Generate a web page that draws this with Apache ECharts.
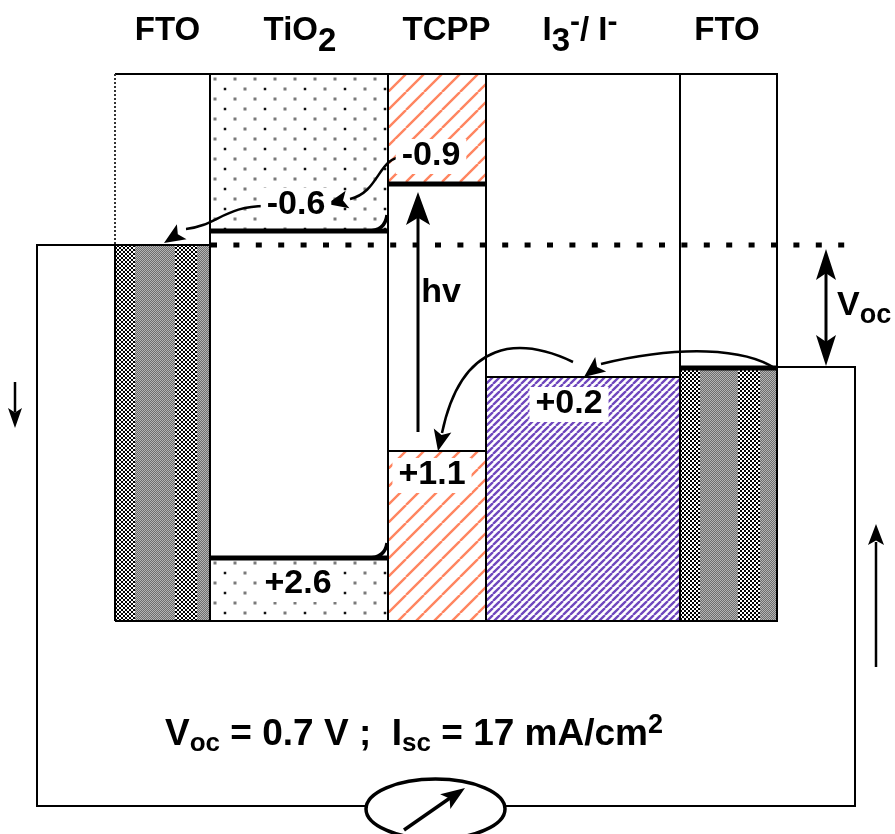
<!DOCTYPE html>
<html><head><meta charset="utf-8">
<script src="https://cdn.jsdelivr.net/npm/echarts@6/dist/echarts.min.js"></script>
<style>html,body{margin:0;padding:0;background:#fff}#c{width:895px;height:834px}</style>
</head><body><div id="c"></div>
<script>
// ================= DATA =================
const materials = ['FTO', 'TiO2', 'TCPP', 'I3-/I-', 'FTO'];
const levelNames = ['TiO2 CB', 'TCPP LUMO', 'TCPP HOMO', 'I3-/I- redox', 'TiO2 VB'];
const levelEnergies = [-0.6, -0.9, 1.1, 0.2, 2.6];   // eV
const vocValues = [0.7];   // V
const iscValues = [17];    // mA/cm2
const photonLabel = ['hv'];

// ================= LAYOUT (schematic diagram units) =================
const W = 895, H = 834;
const FONT = '"Liberation Sans", Arial, Helvetica, sans-serif';
const colEdges = [115, 210, 388, 486, 680, 777];
const boxTop = 74, boxBottom = 621;
const levelY = [231, 184, 451, 377, 558];
const levelCol = [1, 2, 2, 3, 1];
const levelLW = [5, 5, 2, 2, 5];
const fermiY = 245, ftoRightY = 368;
const headerCx = [167.5, 300, 446.5, 580, 727];
const headerBase = 42;
const labelPos = [[296, 216], [431, 167], [432, 486], [569, 415], [298, 595]];

// ================= PATTERNS =================
function mk(w, h, fn) { const c = document.createElement('canvas'); c.width = w; c.height = h; fn(c.getContext('2d'), w, h); return c; }
const patDots = mk(40, 20, (g, w, h) => {
  g.fillStyle = '#fff'; g.fillRect(0, 0, w, h);
  [[5, 5, '#7a7a7a', 3], [25, 5, '#7a7a7a', 3], [15, 15, '#111', 2.5], [35, 15, '#7a7a7a', 3]]
    .forEach(([x, y, c, s]) => { g.fillStyle = c; g.fillRect(x - s / 2, y - s / 2, s, s); });
});
function hatch(size, color, lw) {
  return mk(size, size, (g, w, h) => {
    g.fillStyle = '#fff'; g.fillRect(0, 0, w, h);
    g.strokeStyle = color; g.lineWidth = lw; g.beginPath();
    for (let k = -w; k <= w; k += w) { g.moveTo(k, h); g.lineTo(k + w, 0); }
    g.stroke();
  });
}
const patOrange = hatch(18, '#ff8560', 2.4);
const patPurple = hatch(7, '#6f47bd', 2.3);
function ftoPat(w, bands) {
  return mk(w, 4, (g) => {
    for (let x = 0; x < w; x++) {
      const b = bands.find(b => x >= b[0] && x < b[1]) || bands[bands.length - 1];
      for (let y = 0; y < 4; y++) {
        let c;
        if (b[2] === 'bw') c = ((Math.floor(x / 2) + Math.floor(y / 2)) % 2) ? '#000' : '#fff';
        else c = ((x + y) % 2) ? '#6e6e6e' : '#b4b4b4';
        g.fillStyle = c; g.fillRect(x, y, 1, 1);
      }
    }
  });
}
const patFtoL = ftoPat(95, [[0, 20, 'bw'], [20, 60, 'g'], [60, 82, 'bw'], [82, 95, 'g']]);
const patFtoR = ftoPat(97, [[0, 20, 'bw'], [20, 58, 'g'], [58, 80, 'bw'], [80, 97, 'g']]);
const P = (img) => ({ image: img, repeat: 'repeat' });

// column segments: [y0, y1, fill]
const segments = [
  [[boxTop, fermiY, '#fff'], [fermiY, boxBottom, P(patFtoL)]],
  [[boxTop, levelY[0], P(patDots)], [levelY[0], levelY[4], '#fff'], [levelY[4], boxBottom, P(patDots)]],
  [[boxTop, levelY[1], P(patOrange)], [levelY[1], levelY[2], '#fff'], [levelY[2], boxBottom, P(patOrange)]],
  [[boxTop, levelY[3], '#fff'], [levelY[3], boxBottom, P(patPurple)]],
  [[boxTop, ftoRightY, '#fff'], [ftoRightY, boxBottom, P(patFtoR)]]
];

// ================= TEXT HELPERS =================
const mctx = document.createElement('canvas').getContext('2d');
function tw(t, s) { mctx.font = 'bold ' + s + 'px ' + FONT; return mctx.measureText(t).width; }
function textEl(t, x, base, s, align) {
  return { type: 'text', x: x, y: base - 0.347 * s,
    style: { text: t, fontSize: s, fontWeight: 'bold', fontFamily: FONT, fill: '#000',
      align: align || 'left', verticalAlign: 'middle', textAlign: align || 'left', textVerticalAlign: 'middle' } };
}
// parts: [text, size, dy]
function runs(parts, x0, base, center) {
  const widths = parts.map(p => tw(p[0], p[1]));
  const total = widths.reduce((a, b) => a + b, 0);
  let x = center ? x0 - total / 2 : x0;
  const els = [];
  parts.forEach((p, i) => { els.push(textEl(p[0], x, base + p[2], p[1])); x += widths[i]; });
  return els;
}
function chemParts(name, s) {
  const parts = [];
  for (const ch of name) {
    if (/[0-9]/.test(ch)) parts.push([ch, s, 11]);
    else if (ch === '-') parts.push(['-', 30, -9]);
    else if (ch === '/') parts.push(['/ ', s, 0]);
    else parts.push([ch, s, 0]);
  }
  const out = [];
  parts.forEach(p => {
    const l = out[out.length - 1];
    if (l && l[1] === p[1] && l[2] === p[2]) l[0] += p[0]; else out.push(p.slice());
  });
  return out;
}
const fmt = v => (v > 0 ? '+' : '-') + Math.abs(v).toFixed(1);

// ================= ARROW HELPERS =================
function head(tip, from, len, hw) {
  const dx = tip[0] - from[0], dy = tip[1] - from[1], d = Math.hypot(dx, dy);
  const ux = dx / d, uy = dy / d, nx = -uy, ny = ux;
  const bx = tip[0] - ux * len, by = tip[1] - uy * len;
  const notch = [tip[0] - ux * len * 0.78, tip[1] - uy * len * 0.78];
  return [tip, [bx + nx * hw, by + ny * hw], notch, [bx - nx * hw, by - ny * hw]];
}
// straight arrows: [from, shaftEnd, tip, headLen, halfW, lineWidth]
const straightArrows = [
  [[418, 432], [418, 215], [418, 192], 33, 12, 3],
  [[826, 300], [826, 272], [826, 249], 31, 10, 3],
  [[826, 300], [826, 343], [826, 366], 31, 10, 3],
  [[15, 382], [15, 412], [15, 428], 20, 7, 2.5],
  [[876, 667], [876, 542], [876, 524], 21, 8, 2.5],
  [[404, 830], [450, 798], [465, 788], 24, 9, 3.5]
];
// curved arrows: [P0, P1, P2, P3, tip]
const curvedArrows = [
  [[404, 157], [378, 156], [380, 192], [350, 199], [327, 204]],
  [[268, 206], [226, 205], [216, 226], [186, 229], [164, 243]],
  [[776, 369], [745, 348], [680, 345], [601, 364], [584, 377]],
  [[573, 362], [520, 337], [462, 338], [442, 433], [438, 451]]
];
const hooks = [[[368, 231], [385, 231], [387, 215]], [[368, 558], [385, 558], [387, 543]]];

// ================= CHART =================
const chart = echarts.init(document.getElementById('c'), null, { renderer: 'canvas' });
const idx = arr => arr.map((_, i) => [i]);

const option = {
  animation: false,
  backgroundColor: '#fff',
  grid: { left: 0, right: 0, top: 0, bottom: 0 },
  xAxis: { type: 'value', min: 0, max: W, show: false },
  yAxis: { type: 'value', min: 0, max: H, inverse: true, show: false },
  series: [
    { // column fills
      type: 'custom', coordinateSystem: 'cartesian2d', data: idx(materials), z: 1,
      renderItem: (params, api) => {
        const i = params.dataIndex;
        const x0 = colEdges[i], x1 = colEdges[i + 1];
        const children = segments[i].map(([y0, y1, fill]) => {
          const a = api.coord([x0, y0]), b = api.coord([x1, y1]);
          return { type: 'rect', x: a[0], y: a[1], shape: { x: 0, y: 0, width: b[0] - a[0], height: b[1] - a[1] }, style: { fill: fill } };
        });
        return { type: 'group', children };
      }
    },
    { // column outlines
      type: 'custom', coordinateSystem: 'cartesian2d', data: idx(materials), z: 2,
      renderItem: (params, api) => {
        const i = params.dataIndex;
        const x0 = colEdges[i], x1 = colEdges[i + 1];
        const a = api.coord([x0, boxTop]), b = api.coord([x1, boxBottom]);
        const children = [{ type: 'polyline', shape: { points: [[a[0], a[1]], [b[0], a[1]], [b[0], b[1]], [a[0], b[1]]] }, style: { stroke: '#000', lineWidth: 2, fill: null } }];
        if (i === 0) {
          const m = api.coord([x0, fermiY]);
          children.push({ type: 'line', shape: { x1: a[0], y1: a[1], x2: m[0], y2: m[1] }, style: { stroke: '#333', lineWidth: 2, lineDash: [2, 2] } });
          children.push({ type: 'line', shape: { x1: m[0], y1: m[1], x2: a[0], y2: b[1] }, style: { stroke: '#000', lineWidth: 2 } });
        }
        return { type: 'group', children };
      }
    },
    { // energy level lines
      type: 'custom', coordinateSystem: 'cartesian2d', data: idx(levelEnergies), z: 3,
      renderItem: (params, api) => {
        const i = params.dataIndex, c = levelCol[i];
        const a = api.coord([colEdges[c], levelY[i]]), b = api.coord([colEdges[c + 1], levelY[i]]);
        return { type: 'line', shape: { x1: a[0], y1: a[1], x2: b[0], y2: b[1] }, style: { stroke: '#000', lineWidth: levelLW[i] } };
      }
    },
    { // Fermi level (dotted), FTO levels and external circuit
      type: 'custom', coordinateSystem: 'cartesian2d', data: [[0]], z: 3,
      renderItem: (params, api) => {
        const C = (x, y) => api.coord([x, y]);
        const f0 = C(211, fermiY), f1 = C(848, fermiY);
        const ch = [];
        ch.push({ type: 'line', shape: { x1: f0[0], y1: f0[1], x2: f1[0], y2: f1[1] }, style: { stroke: '#000', lineWidth: 5, lineDash: [6, 16.4] } });
        const r0 = C(colEdges[4], ftoRightY), r1 = C(colEdges[5], ftoRightY);
        ch.push({ type: 'line', shape: { x1: r0[0], y1: r0[1], x2: r1[0], y2: r1[1] }, style: { stroke: '#000', lineWidth: 5 } });
        ch.push({ type: 'polyline', shape: { points: [C(colEdges[1], fermiY), C(37, fermiY), C(37, 806), C(365, 806)] }, style: { stroke: '#000', lineWidth: 2, fill: null } });
        ch.push({ type: 'polyline', shape: { points: [C(505, 806), C(855, 806), C(855, 367), C(777, 367)] }, style: { stroke: '#000', lineWidth: 2, fill: null } });
        const e0 = C(366, 809), e1 = C(505, 809);
        const rx = (e1[0] - e0[0]) / 2, ry = 30;
        ch.push({ type: 'path', shape: { pathData: `M ${e0[0]} ${e0[1]} A ${rx} ${ry} 0 1 0 ${e1[0]} ${e1[1]} A ${rx} ${ry} 0 1 0 ${e0[0]} ${e0[1]} Z` }, style: { fill: '#fff', stroke: '#000', lineWidth: 3.5 } });
        return { type: 'group', children: ch };
      }
    },
    { // straight arrows
      type: 'custom', coordinateSystem: 'cartesian2d', data: idx(straightArrows), z: 4,
      renderItem: (params, api) => {
        const [f, e, t, len, hw, lw] = straightArrows[params.dataIndex];
        const F = api.coord(f), E = api.coord(e), T = api.coord(t);
        return { type: 'group', children: [
          { type: 'line', shape: { x1: F[0], y1: F[1], x2: E[0], y2: E[1] }, style: { stroke: '#000', lineWidth: lw } },
          { type: 'polygon', shape: { points: head(T, F, len, hw) }, style: { fill: '#000' } }
        ] };
      }
    },
    { // curved arrows
      type: 'custom', coordinateSystem: 'cartesian2d', data: idx(curvedArrows), z: 4,
      renderItem: (params, api) => {
        const [p0, p1, p2, p3, tip] = curvedArrows[params.dataIndex].map(p => api.coord(p));
        return { type: 'group', children: [
          { type: 'bezierCurve', shape: { x1: p0[0], y1: p0[1], cpx1: p1[0], cpy1: p1[1], cpx2: p2[0], cpy2: p2[1], x2: p3[0], y2: p3[1] }, style: { stroke: '#000', lineWidth: 2.5, fill: null } },
          { type: 'polygon', shape: { points: head(tip, p3, 21, 9) }, style: { fill: '#000' } }
        ] };
      }
    },
    { // little hooks at TiO2 band edges
      type: 'custom', coordinateSystem: 'cartesian2d', data: idx(hooks), z: 4,
      renderItem: (params, api) => {
        const [a, c, b] = hooks[params.dataIndex].map(p => api.coord(p));
        return { type: 'path', shape: { pathData: `M ${a[0]} ${a[1]} Q ${c[0]} ${c[1]} ${b[0]} ${b[1]}` }, style: { stroke: '#000', lineWidth: 3.5, fill: null } };
      }
    },
    { // energy labels with white backgrounds
      type: 'custom', coordinateSystem: 'cartesian2d', data: idx(levelEnergies), z: 5,
      renderItem: (params, api) => {
        const i = params.dataIndex, s = 34, t = fmt(levelEnergies[i]);
        const p = api.coord(labelPos[i]);
        const w = tw(t, s);
        return { type: 'group', children: [
          { type: 'rect', shape: { x: p[0] - w / 2 - 6, y: p[1] - 28, width: w + 12, height: 35 }, style: { fill: '#fff' } },
          textEl(t, p[0], p[1], s, 'center')
        ] };
      }
    },
    { // headers
      type: 'custom', coordinateSystem: 'cartesian2d', data: idx(materials), z: 5,
      renderItem: (params, api) => {
        const i = params.dataIndex;
        const p = api.coord([headerCx[i], headerBase]);
        return { type: 'group', children: runs(chemParts(materials[i], 33), p[0], p[1], true) };
      }
    },
    { // other texts: hv, Voc label, summary line
      type: 'custom', coordinateSystem: 'cartesian2d', data: [[0]], z: 5,
      renderItem: (params, api) => {
        const C = (x, y) => api.coord([x, y]);
        const ch = [];
        const h = C(441, 304);
        ch.push(textEl(photonLabel[0], h[0], h[1], 34, 'center'));
        const v = C(837, 317);
        runs([['V', 34, 0], ['oc', 27, 8]], v[0], v[1], false).forEach(e => ch.push(e));
        const b = C(414, 748);
        runs([
          ['V', 37, 0], ['oc', 26, 5], [' = ' + vocValues[0].toFixed(1) + ' V ;  ', 37, 0],
          ['I', 37, 0], ['sc', 26, 5], [' = ' + iscValues[0] + ' mA/cm', 37, 0], ['2', 27, -13]
        ], b[0], b[1], true).forEach(e => ch.push(e));
        return { type: 'group', children: ch };
      }
    }
  ]
};
chart.setOption(option);
</script>
</body></html>
